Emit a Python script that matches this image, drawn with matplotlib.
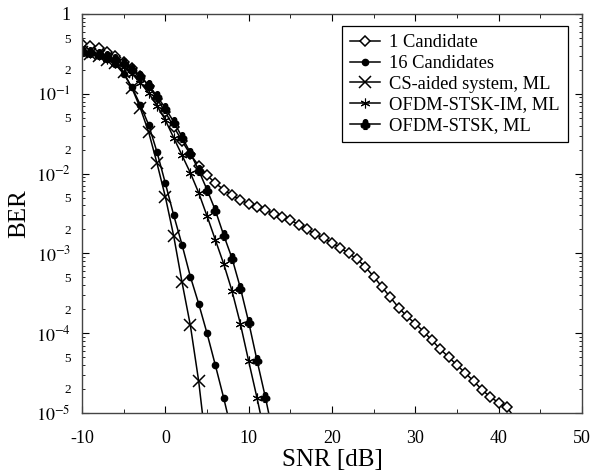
import numpy as np
import matplotlib
matplotlib.use("Agg")
import matplotlib.pyplot as plt
from matplotlib.ticker import FixedLocator, FuncFormatter

plt.rcParams['font.family'] = ['Liberation Serif', 'DejaVu Serif']
plt.rcParams['mathtext.fontset'] = 'stix'
plt.rcParams['axes.unicode_minus'] = False

# SNR points (dB) and log10(BER)
snr_one = np.arange(-10, 43)
log_one = [-0.38, -0.40, -0.43, -0.47, -0.53, -0.60, -0.68, -0.78, -0.90, -1.06,
           -1.23, -1.41, -1.59, -1.76, -1.90, -2.02, -2.12, -2.20, -2.27, -2.33,
           -2.38, -2.42, -2.46, -2.50, -2.54, -2.58, -2.64, -2.70, -2.76, -2.81,
           -2.87, -2.93, -3.00, -3.07, -3.17, -3.29, -3.42, -3.55, -3.68, -3.79,
           -3.88, -3.98, -4.09, -4.20, -4.30, -4.40, -4.50, -4.60, -4.71, -4.80,
           -4.87, -4.93, -5.07]

snr_16 = np.arange(-10, 9)
log_16 = [-0.46, -0.49, -0.52, -0.56, -0.63, -0.75, -0.92, -1.14, -1.39, -1.73,
          -2.12, -2.52, -2.89, -3.29, -3.63, -4.00, -4.40, -4.81, -5.25]

snr_cs = np.arange(-10, 6)
log_cs = [-0.47, -0.50, -0.53, -0.58, -0.62, -0.73, -0.93, -1.18, -1.48, -1.87,
          -2.29, -2.78, -3.36, -3.90, -4.60, -5.50]

snr_im = np.arange(-10, 13)
log_im = [-0.47, -0.49, -0.52, -0.56, -0.61, -0.67, -0.75, -0.86, -0.99, -1.15,
          -1.33, -1.55, -1.77, -1.99, -2.24, -2.53, -2.83, -3.13, -3.47, -3.88,
          -4.35, -4.81, -5.30]

snr_stsk = np.arange(-10, 14)
log_stsk = [-0.46, -0.48, -0.50, -0.53, -0.57, -0.62, -0.69, -0.78, -0.89, -1.03,
            -1.18, -1.35, -1.54, -1.74, -1.96, -2.20, -2.46, -2.77, -3.06, -3.43,
            -3.86, -4.34, -4.80, -5.30]

fig = plt.figure(figsize=(6.01, 4.72), dpi=100)
ax = fig.add_axes([82/601, 59/472, 500/601, 399/472])

ax.semilogy(snr_one, 10**np.array(log_one), color='k', lw=1.1, marker='D', ms=5.2,
            mfc='white', mec='k', mew=1.1, label='1 Candidate')
ax.semilogy(snr_16, 10**np.array(log_16), color='k', lw=1.1, marker='o', ms=4.5,
            label='16 Candidates')
ax.semilogy(snr_cs, 10**np.array(log_cs), color='k', lw=1.1, marker='x', ms=8,
            mew=1.1, label='CS-aided system, ML')
ax.semilogy(snr_im, 10**np.array(log_im), color='k', lw=1.1, marker=(6, 2, 0), ms=7,
            mew=0.8, label='OFDM-STSK-IM, ML')
ax.semilogy(snr_stsk, 10**np.array(log_stsk), color='k', lw=1.1, marker=r'$\clubsuit$',
            ms=7, label='OFDM-STSK, ML')

ax.set_xlim(-10, 50)
ax.set_ylim(1e-5, 1)

ax.set_xticks([-10, 0, 10, 20, 30, 40, 50])
ax.set_xticks([-5, 5, 15, 25, 35, 45], minor=True)

decades = [1e-5, 1e-4, 1e-3, 1e-2, 1e-1, 1]
ax.yaxis.set_major_locator(FixedLocator(decades))
ax.yaxis.set_major_formatter(FuncFormatter(
    lambda v, p: '1' if v >= 1 else r'$10^{%d}$' % round(np.log10(v))))
minors = [m * d for d in decades[:-1] for m in range(2, 10)]
ax.yaxis.set_minor_locator(FixedLocator(minors))
ax.yaxis.set_minor_formatter(FuncFormatter(
    lambda v, p: '%d' % round(v / 10**np.floor(np.log10(v) + 1e-9))
    if round(v / 10**np.floor(np.log10(v) + 1e-9)) in (2, 5) else ''))

ax.tick_params(which='both', direction='in', top=True, right=True, color='k')
ax.tick_params(which='major', length=5, labelsize=13)
ax.tick_params(axis='x', which='major', pad=12)
ax.tick_params(axis='y', which='major', labelsize=13, pad=8)
ax.tick_params(axis='y', which='minor', length=2.5, labelsize=9.5, pad=8)
ax.tick_params(axis='x', which='minor', length=3)
for s in ax.spines.values():
    s.set_color('#444444')
    s.set_linewidth(1.0)

ax.set_xlabel('SNR [dB]', fontsize=18, labelpad=2)
ax.set_ylabel('BER', fontsize=18, labelpad=4)

leg = ax.legend(loc='upper right', fontsize=13.3, handlelength=1.6, handletextpad=0.5,
                borderpad=0.45, labelspacing=0.2, fancybox=False, framealpha=1,
                edgecolor='k', bbox_to_anchor=(0.99, 0.993))
leg.get_frame().set_linewidth(0.9)

fig.savefig('out.png', dpi=100)
